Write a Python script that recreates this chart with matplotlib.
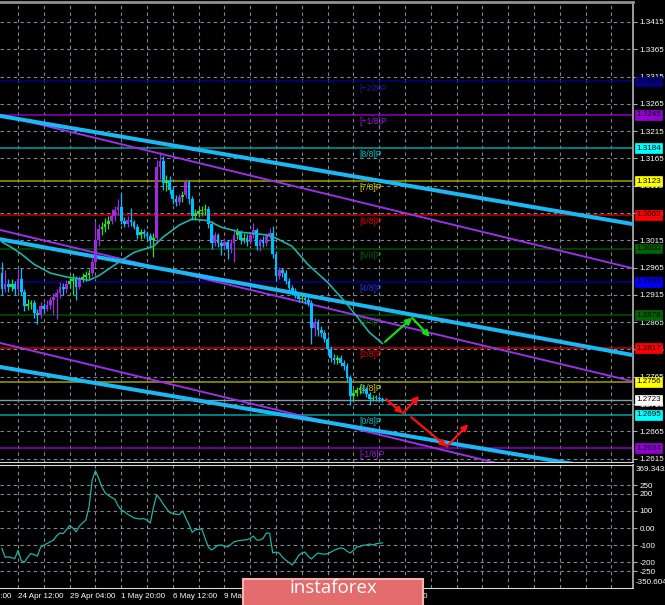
import numpy as np
import matplotlib.pyplot as plt
from matplotlib.patches import Rectangle

plt.rcParams['font.family'] = ['Liberation Sans', 'DejaVu Sans']

# GBP/USD H4 candles, 23 Apr - 21 May 2019
opens = [1.2955, 1.2925, 1.2935, 1.2930, 1.2935, 1.2925, 1.2945, 1.2920, 1.2895, 1.2898,
         1.2900, 1.2882, 1.2878, 1.2895, 1.2890, 1.2897, 1.2905, 1.2912, 1.2918, 1.2930,
         1.2925, 1.2935, 1.2940, 1.2945, 1.2930, 1.2945, 1.2948, 1.2952, 1.2956, 1.2975,
         1.3015, 1.3035, 1.3040, 1.3045, 1.3050, 1.3060, 1.3070, 1.3076, 1.3050, 1.3045,
         1.3052, 1.3048, 1.3040, 1.3025, 1.3030, 1.3027, 1.3022, 1.3015, 1.3020, 1.3150,
         1.3160, 1.3120, 1.3125, 1.3108, 1.3090, 1.3086, 1.3094, 1.3098, 1.3122, 1.3090,
         1.3060, 1.3064, 1.3068, 1.3070, 1.3073, 1.3045, 1.3010, 1.3024, 1.3010, 1.3005,
         1.3012, 1.3000, 1.3010, 1.3025, 1.3030, 1.3015, 1.3020, 1.3012, 1.3025, 1.3033,
         1.3005, 1.3015, 1.3010, 1.3022, 1.3028, 1.2990, 1.2950, 1.2960, 1.2955, 1.2940,
         1.2928, 1.2922, 1.2915, 1.2908, 1.2910, 1.2905, 1.2900, 1.2855, 1.2865, 1.2850,
         1.2845, 1.2835, 1.2815, 1.2800, 1.2795, 1.2800, 1.2790, 1.2785, 1.2762, 1.2730,
         1.2735, 1.2740, 1.2745, 1.2742, 1.2733, 1.2725, 1.2727, 1.2726, 1.2724]
highs = [1.2975, 1.2960, 1.2945, 1.2945, 1.2940, 1.2962, 1.2965, 1.2925, 1.2908, 1.2906,
         1.2905, 1.2890, 1.2902, 1.2900, 1.2905, 1.2912, 1.2918, 1.2925, 1.2938, 1.2936,
         1.2942, 1.2948, 1.2955, 1.2950, 1.2950, 1.2955, 1.2958, 1.2962, 1.2982, 1.3050,
         1.3045, 1.3048, 1.3055, 1.3060, 1.3072, 1.3078, 1.3090, 1.3102, 1.3058, 1.3060,
         1.3075, 1.3052, 1.3045, 1.3036, 1.3036, 1.3032, 1.3028, 1.3028, 1.3162, 1.3176,
         1.3170, 1.3135, 1.3132, 1.3115, 1.3098, 1.3100, 1.3106, 1.3128, 1.3126, 1.3096,
         1.3072, 1.3075, 1.3078, 1.3082, 1.3078, 1.3050, 1.3030, 1.3028, 1.3016, 1.3020,
         1.3016, 1.3018, 1.3035, 1.3038, 1.3034, 1.3028, 1.3026, 1.3030, 1.3046, 1.3038,
         1.3020, 1.3022, 1.3028, 1.3038, 1.3042, 1.2996, 1.2966, 1.2965, 1.2960, 1.2946,
         1.2934, 1.2928, 1.2920, 1.2916, 1.2914, 1.2918, 1.2905, 1.2872, 1.2870, 1.2858,
         1.2850, 1.2840, 1.2822, 1.2806, 1.2805, 1.2804, 1.2796, 1.2790, 1.2768, 1.2742,
         1.2746, 1.2750, 1.2752, 1.2746, 1.2738, 1.2732, 1.2731, 1.2730, 1.2728]
lows = [1.2915, 1.2920, 1.2920, 1.2922, 1.2915, 1.2920, 1.2915, 1.2885, 1.2888, 1.2890,
        1.2872, 1.2862, 1.2872, 1.2882, 1.2885, 1.2890, 1.2880, 1.2870, 1.2910, 1.2915,
        1.2918, 1.2928, 1.2915, 1.2905, 1.2925, 1.2938, 1.2940, 1.2945, 1.2950, 1.2968,
        1.3005, 1.3025, 1.3030, 1.3035, 1.3045, 1.3050, 1.3062, 1.3045, 1.3040, 1.3040,
        1.3042, 1.3035, 1.3018, 1.3018, 1.3020, 1.3015, 1.3002, 1.2985, 1.3012, 1.3128,
        1.3108, 1.3105, 1.3100, 1.3082, 1.3078, 1.3080, 1.3085, 1.3092, 1.3082, 1.3052,
        1.3052, 1.3058, 1.3060, 1.3062, 1.3038, 1.3000, 1.3004, 1.3002, 1.2988, 1.2998,
        1.2980, 1.2992, 1.2975, 1.3018, 1.3008, 1.3010, 1.3004, 1.3008, 1.3020, 1.2998,
        1.2995, 1.3002, 1.3005, 1.3018, 1.2982, 1.2940, 1.2945, 1.2948, 1.2935, 1.2922,
        1.2915, 1.2910, 1.2902, 1.2902, 1.2898, 1.2895, 1.2825, 1.2840, 1.2840, 1.2838,
        1.2828, 1.2808, 1.2792, 1.2788, 1.2788, 1.2784, 1.2778, 1.2755, 1.2713, 1.2720,
        1.2730, 1.2734, 1.2736, 1.2728, 1.2713, 1.2720, 1.2721, 1.2720, 1.2718]
closes = [1.2925, 1.2935, 1.2930, 1.2935, 1.2925, 1.2945, 1.2920, 1.2895, 1.2898, 1.2900,
          1.2882, 1.2878, 1.2895, 1.2890, 1.2897, 1.2905, 1.2912, 1.2918, 1.2930, 1.2925,
          1.2935, 1.2940, 1.2945, 1.2930, 1.2945, 1.2948, 1.2952, 1.2956, 1.2975, 1.3015,
          1.3035, 1.3040, 1.3045, 1.3050, 1.3060, 1.3070, 1.3076, 1.3050, 1.3045, 1.3052,
          1.3048, 1.3040, 1.3025, 1.3030, 1.3027, 1.3022, 1.3015, 1.3020, 1.3150, 1.3160,
          1.3120, 1.3125, 1.3108, 1.3090, 1.3086, 1.3094, 1.3098, 1.3122, 1.3090, 1.3060,
          1.3064, 1.3068, 1.3070, 1.3073, 1.3045, 1.3010, 1.3024, 1.3010, 1.3005, 1.3012,
          1.3000, 1.3010, 1.3025, 1.3030, 1.3015, 1.3020, 1.3012, 1.3025, 1.3033, 1.3005,
          1.3015, 1.3010, 1.3022, 1.3028, 1.2990, 1.2950, 1.2960, 1.2955, 1.2940, 1.2928,
          1.2922, 1.2915, 1.2908, 1.2910, 1.2905, 1.2900, 1.2855, 1.2865, 1.2850, 1.2845,
          1.2835, 1.2815, 1.2800, 1.2795, 1.2800, 1.2790, 1.2785, 1.2762, 1.2730, 1.2735,
          1.2740, 1.2745, 1.2742, 1.2733, 1.2725, 1.2727, 1.2726, 1.2724, 1.2723]

# moving average, read at a few bars
ma_bars = [0, 3, 6, 10, 15, 20, 27, 30, 36, 41, 47, 50, 55, 59, 64, 68, 74, 82, 85, 90,
           95, 101, 106, 110, 114, 118]
ma_vals = [1.3012, 1.3002, 1.2990, 1.2971, 1.2955, 1.2948, 1.2942, 1.2950, 1.2974, 1.2993,
           1.3004, 1.3021, 1.3043, 1.3054, 1.3051, 1.3039, 1.3030, 1.3025, 1.3019, 1.3004,
           1.2970, 1.2938, 1.2905, 1.2876, 1.2846, 1.2826]

# CCI
cci = [-118, -170, -168, -172, -178, -130, -190, -198, -170, -148,
       -155, -163, -112, -100, -90, -80, -70, -45, -29, -33,
       -10, 15, 0, -22, 10, 30, 45, 120, 279, 333,
       290, 240, 205, 190, 178, 168, 130, 105, 95, 80,
       70, 58, 55, 52, 55, 45, 29, 120, 192, 170,
       140, 115, 90, 85, 80, 78, 99, 60, 20, -25,
       -10, -8, -6, -60, -110, -128, -115, -100, -99, -105,
       -110, -95, -80, -75, -72, -70, -68, -60, -47, -70,
       -70, -60, -29, -30, -145, -140, -146, -170, -186, -200,
       -215, -190, -160, -145, -140, -165, -180, -160, -146, -150,
       -152, -150, -140, -130, -122, -116, -120, -135, -145, -130,
       -110, -108, -100, -99, -93, -98, -92, -88, -87]
cci_min, cci_max = -350.604, 369.3432
cci_ticks = [250, 200, 100, 0, -100, -200, -250]
cci_tick_labels = ['250', '200', '100', '0.00', '-100', '-200', '-250']

# Murray levels
murray_levels = [1.3306, 1.3245, 1.3184, 1.3123, 1.3062, 1.3000, 1.2939, 1.2878,
                 1.2817, 1.2756, 1.2695, 1.2634]
murray_names = ['[+2/8]P', '[+1/8]P', '[8/8]P', '[7/8]P', '[6/8]P', '[5/8]P', '[4/8]P',
                '[3/8]P', '[2/8]P', '[1/8]P', '[0/8]P', '[-1/8]P']
murray_line_colors = ['#000080', '#8a00c0', '#00a0a0', '#a0a000', '#c00000', '#005000',
                      '#0000a0', '#005000', '#c00000', '#a0a000', '#00a0a0', '#8a00c0']
murray_box_colors = ['#00008b', '#9400d3', '#00ffff', '#ffff00', '#ff0000', '#006400',
                     '#0000ff', '#006400', '#ff0000', '#ffff00', '#00ffff', '#9400d3']
murray_text_colors = ['#1c1ca0', '#9a20dd', '#00c8c8', '#d0d000', '#e00000', '#006400',
                      '#2030ff', '#006400', '#e00000', '#d0d000', '#00c8c8', '#9a20dd']
last_price = 1.2723

price_ticks = [1.3415, 1.3365, 1.3315, 1.3265, 1.3215, 1.3165, 1.3115, 1.3065, 1.3015,
               1.2965, 1.2915, 1.2865, 1.2815, 1.2765, 1.2715, 1.2665, 1.2615]

grid_bars = [5, 13, 21, 29, 37, 45, 53, 61, 69, 77, 85, 93, 101, 109, 117, 125,
             133, 141, 149, 157, 165, 173, 181, 189]
time_label_bars = [-11, 5, 21, 37, 53, 69, 85, 101, 117]
time_labels = ['19 Apr 20:00', '24 Apr 12:00', '29 Apr 04:00', '1 May 20:00',
               '6 May 12:00', '9 May 04:00', '13 May 20:00', '16 May 12:00', '21 May 04:00']

# channels, price at the left and right edges of the chart
edge_bars = [-0.6, 195.4]
upper_blue = [1.3243, 1.3045]
upper_purple = [1.3245, 1.2964]
middle_blue = [1.3017, 1.2805]
middle_purple = [1.3034, 1.2757]
lower_blue = [1.2783, 1.2587]
lower_purple = [1.2827, 1.2547]

# forecast arrows
green_bars = [118.8, 127.2, 132.7]
green_prices = [1.2829, 1.2873, 1.2838]
red1_bars = [119.1, 124.3, 129.4]
red1_prices = [1.2724, 1.2698, 1.2730]
red2_bars = [126.9, 137.9, 144.6]
red2_prices = [1.2691, 1.2637, 1.2678]

BG = '#000000'
GRID = '#7d8a96'
FS = 5.8

fig = plt.figure(figsize=(6.65, 6.05), dpi=100, facecolor=BG)
ax = fig.add_axes([0, 1 - 462 / 605, 633 / 665, 460 / 605], facecolor=BG)
axc = fig.add_axes([0, 1 - 588.3 / 605, 633 / 665, 123.8 / 605], facecolor=BG)

xlim = (-1.9 / 3.225, (633 - 1.9) / 3.225)

for a in (ax, axc):
    a.set_xticks(grid_bars)
    a.set_xlim(*xlim)
    a.tick_params(axis='x', length=0, labelbottom=False)
    a.yaxis.tick_right()
    a.tick_params(axis='y', length=3, color='#b0b0b0', labelcolor='white',
                  labelsize=FS, pad=1.5)
    a.grid(True, color=GRID, linestyle=(0, (3, 3)), linewidth=0.8, zorder=0)
    a.set_axisbelow(True)
    a.spines['left'].set_visible(False)
    a.spines['right'].set_color('#a8a8a8')
    a.spines['right'].set_linewidth(1.3)

ax.spines['top'].set_color('#909090')
ax.spines['top'].set_linewidth(2)
ax.spines['bottom'].set_color('#d8d8d8')
axc.spines['top'].set_color('#d8d8d8')
axc.spines['bottom'].set_color('#d8d8d8')

# price panel
ax.set_yticks(price_ticks)
ax.set_yticklabels(['%.4f' % p for p in price_ticks])
ax.set_ylim(1.3415 - 440 / 5458, 1.3415 + 20 / 5458)

for lvl, lc in zip(murray_levels, murray_line_colors):
    ax.axhline(lvl, color=lc, lw=1.1, zorder=1)
ax.axhline(last_price, color='#8898a8', lw=1.0, zorder=1)

for name, lvl, tc in zip(murray_names, murray_levels, murray_text_colors):
    ax.annotate(name, xy=(111, lvl), xytext=(0, -1.5), textcoords='offset points',
                ha='left', va='top', color=tc, fontsize=FS + 0.4, zorder=2)

ax.plot(edge_bars, upper_purple, color='#9a30e6', lw=1.4, zorder=2)
ax.plot(edge_bars, middle_purple, color='#9a30e6', lw=1.4, zorder=2)
ax.plot(edge_bars, lower_purple, color='#9a30e6', lw=1.4, zorder=2)
ax.plot(edge_bars, upper_blue, color='#1ab8f4', lw=2.9, zorder=3)
ax.plot(edge_bars, middle_blue, color='#1ab8f4', lw=2.9, zorder=3)
ax.plot(edge_bars, lower_blue, color='#1ab8f4', lw=2.9, zorder=3)

# candles
o = np.array(opens)
c = np.array(closes)
bars = np.arange(len(c))
body = np.abs(c - o)
up = c >= o
cols = np.where(~up, '#00bfff', np.where(body < 0.00055, '#28e028', '#9b2ce0'))
ax.vlines(bars, lows, highs, colors=cols, lw=0.9, zorder=4)
ax.bar(bars, np.maximum(body, 0.00018), bottom=np.minimum(o, c), width=0.85,
       color=cols, linewidth=0, zorder=5)

ax.plot(ma_bars, ma_vals, color='#20b2aa', lw=1.2, zorder=6)

arrow_kw = dict(arrowstyle='-|>', lw=1.6, mutation_scale=9, shrinkA=0, shrinkB=0)
for xs, ys, col in ((green_bars, green_prices, '#10e010'),
                    (red1_bars, red1_prices, '#ff1010'),
                    (red2_bars, red2_prices, '#ff1010')):
    for i in range(len(xs) - 1):
        ax.annotate('', xy=(xs[i + 1], ys[i + 1]), xytext=(xs[i], ys[i]),
                    arrowprops=dict(color=col, **arrow_kw), zorder=7)

# price boxes on the right scale
for lvl, bc in zip(murray_levels + [last_price], murray_box_colors + ['#ffffff']):
    ax.annotate('%.4f' % lvl, xy=(1, lvl), xycoords=('axes fraction', 'data'),
                xytext=(2.2, 0), textcoords='offset points', ha='left', va='center',
                color='black', fontsize=FS,
                bbox=dict(boxstyle='square,pad=0.18', fc=bc, ec=bc, lw=0.5),
                annotation_clip=False, zorder=10)

# CCI panel
axc.set_yticks(cci_ticks)
axc.set_yticklabels(cci_tick_labels)
axc.set_ylim(cci_min, cci_max)
axc.plot(bars, cci, color='#20b2aa', lw=0.9, zorder=3)
axc.annotate('%.4f' % cci_max, xy=(1, 1), xycoords='axes fraction', xytext=(2, -1),
             textcoords='offset points', ha='left', va='top', color='white',
             fontsize=FS, annotation_clip=False)
axc.annotate('%.3f' % cci_min, xy=(1, 0), xycoords='axes fraction', xytext=(2, 1.5),
             textcoords='offset points', ha='left', va='bottom', color='white',
             fontsize=FS, annotation_clip=False)

for b, lab in zip(time_label_bars, time_labels):
    axc.text(b, -0.035, lab, transform=axc.get_xaxis_transform(), ha='left', va='top',
             color='white', fontsize=FS, clip_on=False)

# watermark
fig.patches.append(Rectangle((243 / 665, -0.01), 180 / 665, 32.5 / 605,
                             transform=fig.transFigure, fc='#e36d6d', ec='#f4b4b4',
                             lw=1.5, zorder=20))
fig.text(333 / 665, 1 - 588 / 605, 'instaforex', ha='center', va='center',
         color='white', fontsize=13.5, family=['Open Sans', 'DejaVu Sans'], zorder=21)

fig.savefig('out.png', dpi=100, facecolor=BG)
